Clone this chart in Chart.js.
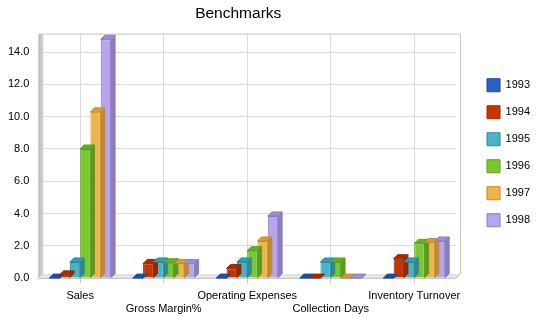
<!DOCTYPE html>
<html><head><meta charset="utf-8">
<script src="https://cdn.jsdelivr.net/npm/chart.js@4/dist/chart.umd.min.js"></script>
<style>html,body{margin:0;padding:0;background:#fff}#wrap{width:550px;height:318px}</style>
</head><body><div id="wrap"><canvas id="c" width="550" height="318"></canvas></div>
<script>
const categories = ['Sales', 'Gross Margin%', 'Operating Expenses', 'Collection Days', 'Inventory Turnover'];
const years = ['1993', '1994', '1995', '1996', '1997', '1998'];
const v1993 = [0, 0, 0, 0, 0];
const v1994 = [0.2, 0.9, 0.6, 0, 1.2];
const v1995 = [1.0, 1.0, 1.0, 1.0, 1.0];
const v1996 = [8.0, 0.95, 1.7, 1.0, 2.15];
const v1997 = [10.3, 0.9, 2.3, 0, 2.2];
const v1998 = [14.8, 0.9, 3.85, 0, 2.3];
const yTicks = [0, 2, 4, 6, 8, 10, 12, 14];

const fills = ['#2a62c4', '#c83400', '#48b4c6', '#7ac82c', '#eeb44a', '#b8a4f0'];
const edges = ['#1a4a98', '#982800', '#2c8a9a', '#58a020', '#c08a2a', '#8c7cc0'];
const sides = ['#1c4690', '#962600', '#2e8696', '#5a9a1e', '#be8a30', '#8c7cbc'];
const tops = ['#1e4ea0', '#a82c00', '#3a9caf', '#64ac22', '#d49c38', '#a08ed8'];
const series = [v1993, v1994, v1995, v1996, v1997, v1998];

const D = 4;
const threeD = {
  id: 'threeD',
  afterLayout(chart) {
    const lg = chart.legend;
    lg.left += 17; lg.right += 17; lg.top -= 8; lg.bottom -= 8;
    const tb = chart.titleBlock;
    if (tb) { tb.right -= 18; tb.width = tb.right - tb.left; }
  },
  beforeDatasetsDraw(chart) {
    const ctx = chart.ctx, a = chart.chartArea;
    ctx.save();
    ctx.strokeStyle = '#c8c8c8'; ctx.lineWidth = 1;
    ctx.beginPath();
    ctx.moveTo(a.left + D, a.top + 0.5); ctx.lineTo(a.right + D + 0.5, a.top + 0.5);
    ctx.lineTo(a.right + D + 0.5, a.bottom - D);
    ctx.stroke();
    const g = ctx.createLinearGradient(a.left, 0, a.left + D + 1, 0);
    g.addColorStop(0, '#b8b8b8'); g.addColorStop(1, '#d8d8d8');
    ctx.fillStyle = g;
    ctx.fillRect(a.left, a.top, D + 1, a.bottom - a.top);
    ctx.fillStyle = '#e2e2e2';
    ctx.beginPath();
    ctx.moveTo(a.left, a.bottom); ctx.lineTo(a.left + D, a.bottom - D);
    ctx.lineTo(a.right + D, a.bottom - D); ctx.lineTo(a.right, a.bottom);
    ctx.closePath(); ctx.fill();
    ctx.strokeStyle = '#c4c4c4';
    ctx.beginPath();
    ctx.moveTo(a.left, a.bottom + 0.5); ctx.lineTo(a.right, a.bottom + 0.5); ctx.lineTo(a.right + D, a.bottom - D);
    ctx.stroke();
    ctx.restore();
  },
  afterDatasetsDraw(chart) {
    const ctx = chart.ctx;
    ctx.save();
    chart.data.datasets.forEach((ds, i) => {
      const meta = chart.getDatasetMeta(i);
      meta.data.forEach(bar => {
        const l = bar.x - bar.width / 2, r = bar.x + bar.width / 2, t = bar.y, b = bar.base;
        ctx.fillStyle = tops[i]; ctx.strokeStyle = edges[i]; ctx.lineWidth = 1;
        ctx.beginPath();
        ctx.moveTo(l, t); ctx.lineTo(l + D, t - D); ctx.lineTo(r + D, t - D); ctx.lineTo(r, t);
        ctx.closePath(); ctx.fill(); ctx.stroke();
        ctx.fillStyle = sides[i];
        ctx.beginPath();
        ctx.moveTo(r, t); ctx.lineTo(r + D, t - D); ctx.lineTo(r + D, b - D); ctx.lineTo(r, b);
        ctx.closePath(); ctx.fill(); ctx.stroke();
      });
    });
    ctx.restore();
  }
};

Chart.defaults.font.family = '"Liberation Sans", Arial, sans-serif';
Chart.defaults.font.size = 11;
Chart.defaults.color = '#000';

new Chart(document.getElementById('c'), {
  type: 'bar',
  data: {
    labels: categories,
    datasets: years.map((y, i) => ({
      label: y, data: series[i],
      backgroundColor: fills[i], borderColor: edges[i], borderWidth: 1,
      categoryPercentage: 0.74, barPercentage: 1.0
    }))
  },
  options: {
    responsive: false, animation: false,
    layout: { padding: { left: -1, right: 27, top: 0, bottom: -3.5 } },
    plugins: {
      title: { display: true, text: 'Benchmarks', fullSize: false,
        font: { size: 15.5, weight: 'normal' }, color: '#000', padding: { top: 4, bottom: 11 } },
      legend: { position: 'right',
        labels: { boxWidth: 13, boxHeight: 13, padding: 14, color: '#000', font: { size: 11 },
          generateLabels(chart) {
            return years.map((y, i) => ({ text: y, fillStyle: fills[i], strokeStyle: edges[i], lineWidth: 1, datasetIndex: i, hidden: false }));
          } } },
      tooltip: { enabled: false }
    },
    scales: {
      x: {
        grid: { color: '#dcdcdc', offset: false, drawTicks: true, tickLength: 5, tickColor: '#c8c8c8' },
        border: { display: false },
        ticks: { padding: 6, maxRotation: 0, autoSkip: false,
          callback(v, i) { return i % 2 ? ['', categories[i]] : categories[i]; } }
      },
      y: {
        min: 0, max: 15.15,
        afterBuildTicks(s) { s.ticks = yTicks.map(v => ({ value: v })); },
        grid: { color: '#dcdcdc', drawTicks: false },
        border: { display: false },
        ticks: { padding: 9, callback: v => v.toFixed(1) }
      }
    }
  },
  plugins: [threeD]
});
</script></body></html>
